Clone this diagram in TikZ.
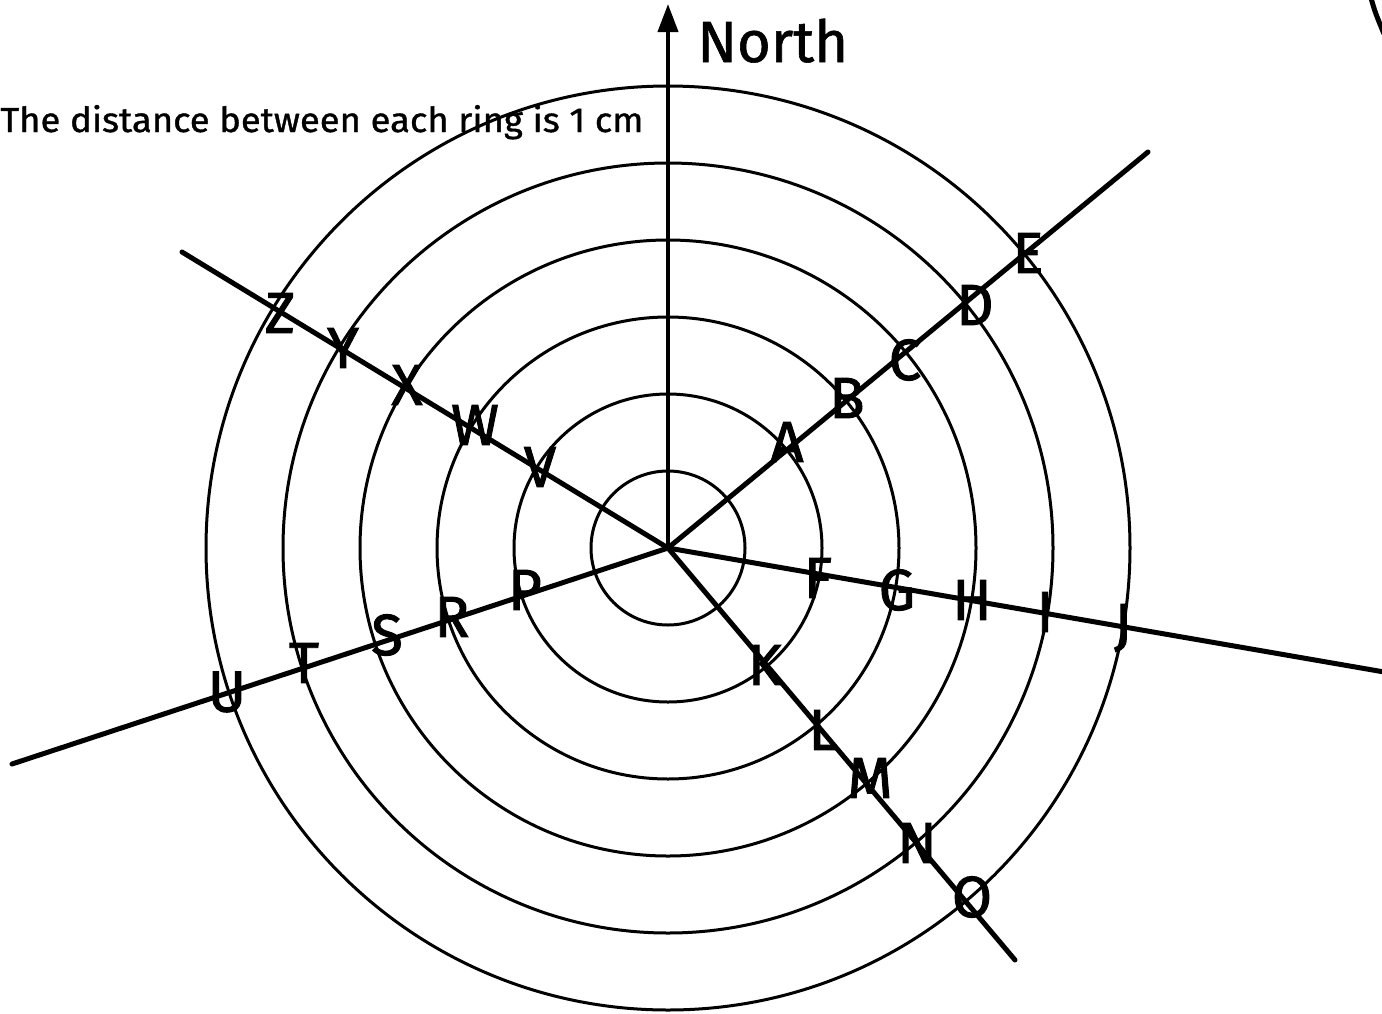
\documentclass[tikz,border=0pt]{standalone}
\usepackage{fontspec}
\setmainfont{Fira Sans}
\newfontfamily\handfont{Fira Sans}[FakeBold=1.6]
\newfontfamily\capfont{Fira Sans}[FakeBold=1.0]
\usetikzlibrary{arrows.meta}
\begin{document}
\begin{tikzpicture}[x=0.5pt,y=-0.5pt,
  ring/.style={line width=1.5pt},
  ray/.style={line width=2.5pt, line cap=round},
  letter/.style={font=\handfont\fontsize{29}{29}\selectfont, inner sep=0pt},
]
\useasboundingbox (0,0) rectangle (1382,1013);
\coordinate (O) at (668,548);
\foreach \k in {1,...,6} \draw[ring] (O) circle[radius=38.5pt*\k];
% ray end points
\coordinate (ne) at (1148,152);
\coordinate (nw) at (182,252);
\coordinate (e) at (1390,673);
\coordinate (se) at (1015,960);
\coordinate (wsw) at (12,764);
\coordinate (n) at (668,4);
\draw[ray] (O) -- (ne);
\draw[ray] (O) -- (nw);
\draw[ray] (O) -- (e);
\draw[ray] (O) -- (se);
\draw[ray] (O) -- (wsw);
\draw[line width=2pt, -{Triangle[length=14pt,width=10pt]}] (O) -- (n);
% partial curve in the top right corner
\draw[line width=2.5pt] (1371,-2) .. controls (1375,12) .. (1384,34);
% texts
\node[font=\capfont\fontsize{29}{29}\selectfont, anchor=base west, inner sep=0pt] (north) at (697,62) {North};
\node[font=\capfont, anchor=base west, inner sep=0pt] (caption) at (0,132) {\resizebox{321.5pt}{13.5pt}{The distance between each ring is 1 cm}};
% letters
\node[letter] (lA) at (787,442) {A};
\node[letter] (lB) at (847,398) {B};
\node[letter] (lC) at (905,360) {C};
\node[letter] (lD) at (975,305) {D};
\node[letter] (lE) at (1028,253) {E};
\node[letter] (lF) at (818,578) {F};
\node[letter] (lG) at (897,590) {G};
\node[letter] (lH) at (972,600) {H};
\node[letter] (lI) at (1045,612) {I};
\node[letter] (lJ) at (1123,628) {J};
\node[letter] (lK) at (765,665) {K};
\node[letter] (lL) at (823,730) {L};
\node[letter] (lM) at (870,778) {M};
\node[letter] (lN) at (917,843) {N};
\node[letter] (lO) at (972,897) {O};
\node[letter] (lP) at (525,590) {P};
\node[letter] (lR) at (452,617) {R};
\node[letter] (lS) at (387,635) {S};
\node[letter] (lT) at (304,663) {T};
\node[letter] (lU) at (227,692) {U};
\node[letter] (lV) at (540,467) {V};
\node[letter] (lW) at (475,425) {W};
\node[letter] (lX) at (407,385) {X};
\node[letter] (lY) at (343,348) {Y};
\node[letter] (lZ) at (280,313) {Z};
\end{tikzpicture}
\end{document}
